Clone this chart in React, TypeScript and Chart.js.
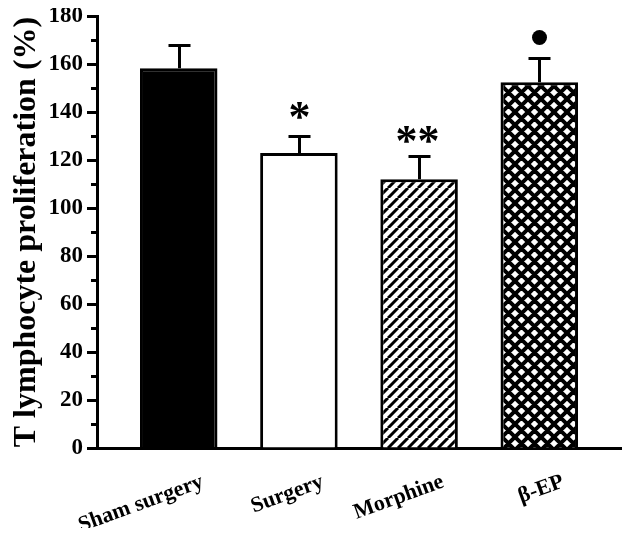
import { useEffect, useRef } from 'react';
import { Chart, registerables } from 'chart.js';

Chart.register(...registerables);

const categories = ['Sham surgery', 'Surgery', 'Morphine', 'β-EP'];
const means = [158.2, 122.9, 112.0, 152.4];
const errors = [9.7, 7.2, 9.8, 10.0];
const marks = ['', '*', '**', '●'];
const yMajorStep = 20;
const minorTickValues = [10, 30, 50, 70, 90, 110, 130, 150, 170];

const FONT = "'Liberation Serif', 'Times New Roman', serif";

function makeStripes(): CanvasPattern | string {
  const p = 10;
  const c = document.createElement('canvas');
  c.width = p; c.height = p;
  const g = c.getContext('2d');
  if (!g) return '#fff';
  g.fillStyle = '#fff';
  g.fillRect(0, 0, p, p);
  g.strokeStyle = '#000';
  g.lineWidth = 3;
  g.beginPath();
  for (const k of [-1, 0, 1]) {
    g.moveTo(k * p, p);
    g.lineTo(k * p + p, 0);
  }
  g.stroke();
  return g.createPattern(c, 'repeat') || '#fff';
}

function makeCross(): CanvasPattern | string {
  const p = 13;
  const c = document.createElement('canvas');
  c.width = p; c.height = p;
  const g = c.getContext('2d');
  if (!g) return '#000';
  g.fillStyle = '#fff';
  g.fillRect(0, 0, p, p);
  g.strokeStyle = '#000';
  g.lineWidth = 4;
  g.beginPath();
  for (const k of [-1, 0, 1]) {
    g.moveTo(k * p, p);
    g.lineTo(k * p + p, 0);
    g.moveTo(k * p, 0);
    g.lineTo(k * p + p, p);
  }
  g.stroke();
  return g.createPattern(c, 'repeat') || '#000';
}

const overlay = {
  id: 'overlay',
  afterDraw(chart: any) {
    const { ctx, chartArea } = chart;
    const x = chart.scales.x;
    const y = chart.scales.y;
    ctx.save();
    ctx.strokeStyle = '#000';
    ctx.fillStyle = '#000';
    ctx.lineWidth = 3;
    ctx.lineCap = 'butt';
    for (const v of minorTickValues) {
      const py = Math.round(y.getPixelForValue(v)) + 0.5;
      ctx.beginPath();
      ctx.moveTo(chartArea.left - 6, py);
      ctx.lineTo(chartArea.left, py);
      ctx.stroke();
    }
    means.forEach((m, i) => {
      const px = Math.round(x.getPixelForValue(i)) + 0.5;
      const base = y.getPixelForValue(m);
      const top = Math.round(y.getPixelForValue(m + errors[i])) + 0.5;
      ctx.beginPath();
      ctx.moveTo(px, base);
      ctx.lineTo(px, top);
      ctx.moveTo(px - 11, top);
      ctx.lineTo(px + 11, top);
      ctx.stroke();
      const mk = marks[i];
      if (mk === '●') {
        ctx.beginPath();
        ctx.arc(px, top - 21, 7.5, 0, Math.PI * 2);
        ctx.fill();
      } else if (mk) {
        const fs = 44;
        ctx.font = `bold ${fs}px ${FONT}`;
        ctx.textAlign = 'center';
        ctx.textBaseline = 'alphabetic';
        const cy = top - (mk.length === 1 ? 26 : 22);
        const n = mk.length;
        for (let k = 0; k < n; k++) {
          const cx = px + (k - (n - 1) / 2) * 22 - (n > 1 ? 2 : 0);
          ctx.fillText('*', cx, cy + 0.46 * fs);
        }
      }
    });
    ctx.restore();
  },
};

export default function App() {
  const ref = useRef<HTMLCanvasElement | null>(null);
  useEffect(() => {
    if (!ref.current) return;
    const bg = ['#000', '#fff', makeStripes(), makeCross()];
    const chart = new Chart(ref.current, {
      type: 'bar',
      data: {
        datasets: [
          {
            data: means.map((m, i) => ({ x: i, y: m })) as any,
            backgroundColor: bg as any,
            borderColor: '#000',
            borderWidth: 3,
            barPercentage: 0.645,
            categoryPercentage: 1,
          },
        ],
      },
      options: {
        animation: false,
        responsive: true,
        maintainAspectRatio: false,
        layout: { padding: { left: 0, right: 1, top: 8, bottom: 0 } },
        plugins: { legend: { display: false }, tooltip: { enabled: false } },
        scales: {
          x: {
            type: 'linear',
            min: -0.68,
            max: 3.68,
            offset: false,
            afterBuildTicks: (s: any) => {
              s.ticks = categories.map((_, i) => ({ value: i }));
            },
            afterFit: (s: any) => {
              s.height = 80;
              s.paddingLeft = 0;
              s.paddingRight = 0;
            },
            grid: { display: false, offset: false },
            border: { display: true, width: 3, color: '#000' },
            ticks: {
              autoSkip: false,
              minRotation: 20,
              maxRotation: 20,
              labelOffset: 24,
              padding: 13,
              color: '#000',
              font: { family: FONT, size: 22, weight: 'bold' },
              callback: (v: any) => categories[v as number] ?? '',
            },
          },
          y: {
            min: 0,
            max: 180,
            afterFit: (s: any) => {
              s.width = 89;
              s.paddingTop = 0;
              s.paddingBottom = 0;
            },
            grid: { drawOnChartArea: false, tickLength: 10, tickWidth: 3, color: '#000' },
            border: { display: true, width: 3, color: '#000' },
            ticks: {
              stepSize: yMajorStep,
              padding: 4,
              color: '#000',
              font: { family: FONT, size: 23, weight: 'bold' },
            },
            title: {
              display: true,
              text: 'T lymphocyte proliferation (%)',
              color: '#000',
              padding: 0,
              font: { family: FONT, size: 32, weight: 'bold' },
            },
          },
        },
      },
      plugins: [overlay],
    });
    return () => chart.destroy();
  }, []);
  return (
    <div style={{ position: 'relative', width: 614, height: 520 }}>
      <canvas ref={ref} />
    </div>
  );
}
